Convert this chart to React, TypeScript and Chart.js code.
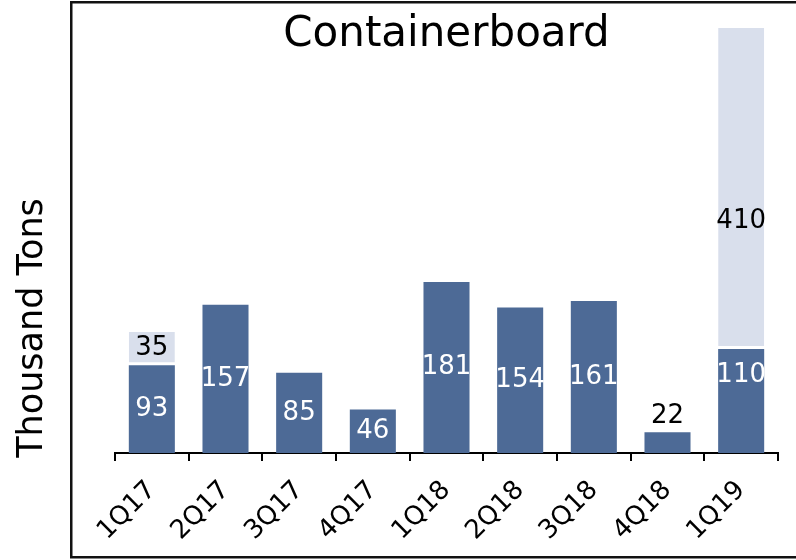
import React, { useEffect, useRef } from 'react';
import { Chart, registerables } from 'chart.js';

Chart.register(...registerables);

const categories = ['1Q17', '2Q17', '3Q17', '4Q17', '1Q18', '2Q18', '3Q18', '4Q18', '1Q19'];
const baseVolumes = [93, 157, 85, 46, 181, 154, 161, 22, 110];
const addedVolumes = [35, null, null, null, null, null, null, null, 410];
const chartTitle = 'Containerboard';
const yAxisTitle = 'Thousand Tons';
const yMin = 0;
const yMax = 450;

const FONT = '"DejaVu Sans", sans-serif';
const DARK = '#4D6A96';
const LIGHT = '#D9DFEC';

const decorPlugin = {
  id: 'decor',
  beforeDraw(chart: any) {
    const ctx = chart.ctx;
    ctx.save();
    ctx.fillStyle = '#ffffff';
    ctx.fillRect(0, 0, chart.width, chart.height);
    ctx.restore();
  },
  afterDatasetsDraw(chart: any, _args: any, opts: any) {
    const ctx = chart.ctx;
    const area = chart.chartArea;
    const shifts = (opts && opts.labelShift) || {};
    ctx.save();
    ctx.font = `26px ${FONT}`;
    ctx.textAlign = 'center';
    ctx.textBaseline = 'middle';
    chart.data.datasets.forEach((ds: any, di: number) => {
      const meta = chart.getDatasetMeta(di);
      meta.data.forEach((el: any, i: number) => {
        const v = ds.data[i];
        if (v === null || v === undefined) return;
        const top = Math.max(el.y, area.top);
        const bottom = el.base;
        const h = bottom - top;
        let y = (top + bottom) / 2;
        let color = di === 0 ? '#ffffff' : '#000000';
        if (h < 30) {
          y = top - 16;
          color = '#000000';
        }
        const key = `${di}-${i}`;
        if (shifts[key]) y += shifts[key];
        ctx.fillStyle = color;
        ctx.fillText(String(v), el.x, y);
      });
    });
    ctx.restore();
  },
  afterDraw(chart: any) {
    const ctx = chart.ctx;
    const area = chart.chartArea;
    ctx.save();
    // frame
    ctx.strokeStyle = '#111111';
    ctx.lineWidth = 2.5;
    ctx.strokeRect(71.25, 2.25, 800, 555);
    // title
    ctx.fillStyle = '#000000';
    ctx.font = `42px ${FONT}`;
    ctx.textAlign = 'center';
    ctx.textBaseline = 'middle';
    ctx.fillText(chartTitle, (area.left + area.right) / 2, 35);
    // y title
    ctx.translate(33, 328);
    ctx.rotate(-Math.PI / 2);
    ctx.font = `35px ${FONT}`;
    ctx.fillText(yAxisTitle, 0, 0);
    ctx.restore();
  },
};

export default function App() {
  const ref = useRef<HTMLCanvasElement | null>(null);

  useEffect(() => {
    if (!ref.current) return;
    const chart = new Chart(ref.current, {
      type: 'bar',
      data: {
        labels: categories,
        datasets: [
          {
            label: 'Base',
            data: baseVolumes,
            backgroundColor: DARK,
            borderWidth: 0,
            stack: 's',
          },
          {
            label: 'Added',
            data: addedVolumes as any,
            backgroundColor: LIGHT,
            borderColor: '#ffffff',
            borderWidth: { top: 0, left: 0, right: 0, bottom: 3 } as any,
            borderSkipped: false as any,
            stack: 's',
          },
        ],
      },
      options: {
        responsive: false,
        animation: false,
        devicePixelRatio: 1,
        layout: { padding: { left: 115, right: 18, top: 28, bottom: 0 } },
        plugins: {
          legend: { display: false },
          tooltip: { enabled: false },
          title: { display: false },
          decor: { labelShift: { '0-8': -26, '1-8': 33 } },
        } as any,
        datasets: {
          bar: { categoryPercentage: 1, barPercentage: 0.625 },
        } as any,
        scales: {
          x: {
            stacked: true,
            offset: true,
            grid: {
              display: true,
              drawOnChartArea: false,
              drawTicks: true,
              tickLength: 8,
              color: '#000000',
              lineWidth: 2,
              offset: true,
            },
            border: { display: true, color: '#000000', width: 2 },
            ticks: {
              color: '#000000',
              font: { family: FONT, size: 26 },
              maxRotation: 45,
              minRotation: 45,
              padding: 14,
            },
            afterFit: (scale: any) => {
              scale.height = 107;
            },
          },
          y: {
            stacked: true,
            display: false,
            min: yMin,
            max: yMax,
          },
        },
      },
      plugins: [decorPlugin],
    });
    return () => chart.destroy();
  }, []);

  return (
    <div style={{ position: 'fixed', left: 0, top: 0, width: 796, height: 560, background: '#fff' }}>
      <canvas ref={ref} width={796} height={560} style={{ width: 796, height: 560, display: 'block' }} />
    </div>
  );
}
